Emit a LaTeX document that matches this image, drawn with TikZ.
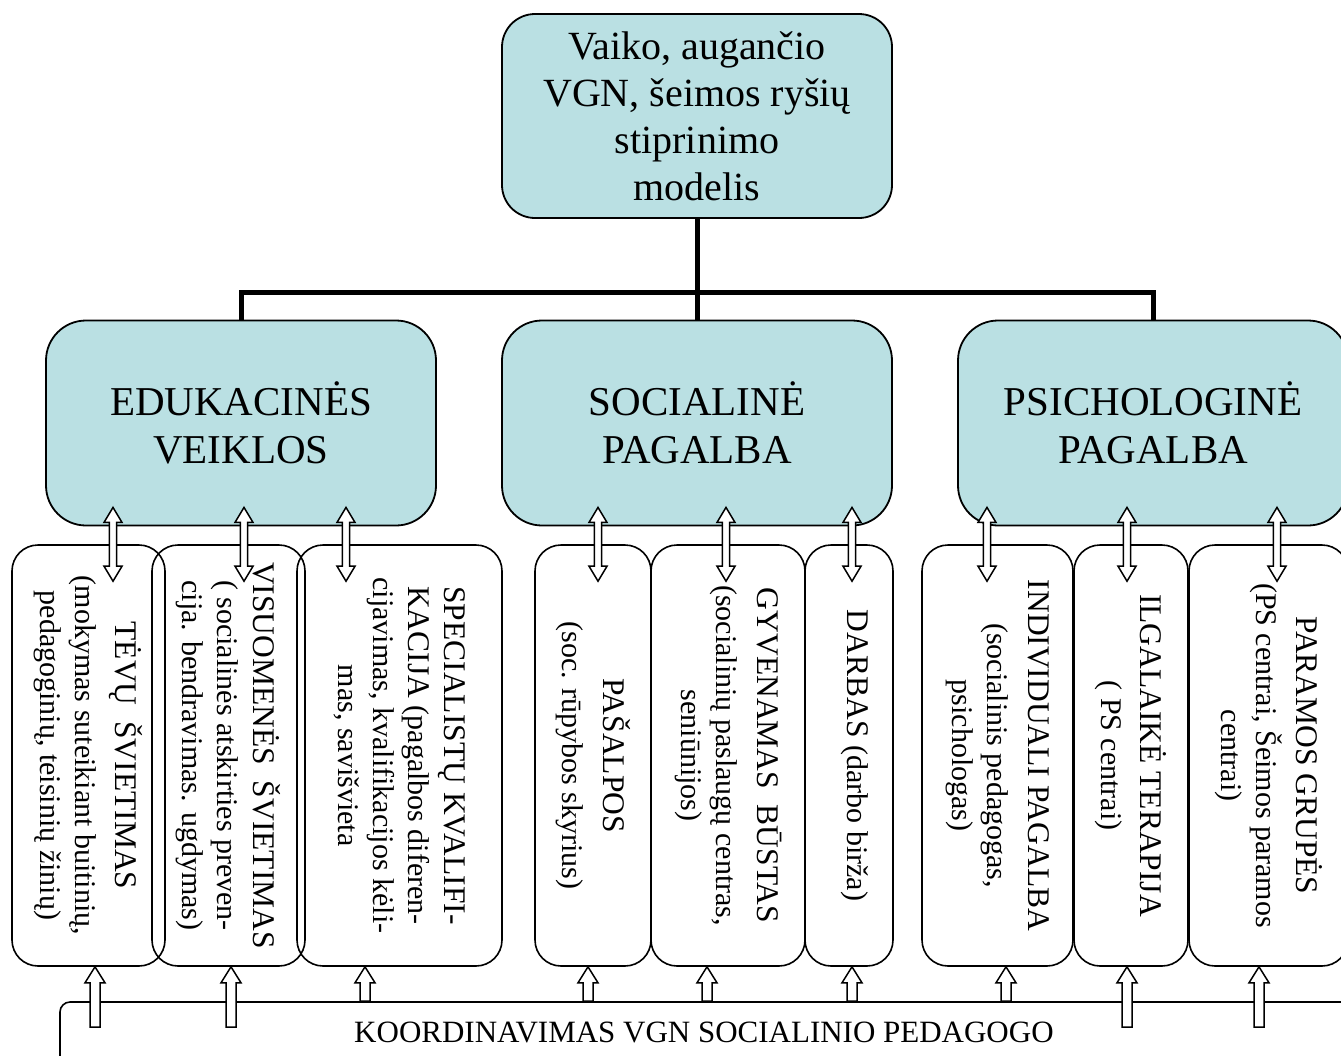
\documentclass[tikz,border=0pt]{standalone}
\usepackage{fontspec}
\setmainfont{Liberation Serif}
\usetikzlibrary{calc}

\definecolor{boxblue}{RGB}{186,224,227}
\newcommand{\hd}[1]{{\fontsize{31.5}{35}\selectfont #1}}

\tikzset{
  mainbox/.style={draw, line width=1.8pt, fill=boxblue, rounded corners=33pt,
    minimum width=390pt, minimum height=204pt, inner sep=0pt, align=center,
    font=\fontsize{40}{47}\selectfont},
  areabox/.style={draw, line width=1.8pt, fill=boxblue, rounded corners=40pt,
    minimum width=390pt, minimum height=205pt, inner sep=0pt, align=center,
    font=\fontsize{41}{48}\selectfont},
  subbox/.style={draw, line width=1.6pt, rounded corners=26pt,
    minimum height=421pt, inner sep=0pt},
  subtxt/.style={rotate=-90, align=center, inner sep=0pt,
    font=\fontsize{30}{35}\selectfont},
  trunk/.style={line width=5pt},
  fatdbl/.style={draw, fill=white, line width=1.5pt, line join=miter,
    to path={let \p1=(\tikztostart), \p2=(\tikztotarget) in
      (\x1,\y1) -- (\x1+9pt,\y1-15pt) -- (\x1+3.7pt,\y1-15pt)
      -- (\x1+3.7pt,\y2+15pt) -- (\x1+9pt,\y2+15pt) -- (\x1,\y2)
      -- (\x1-9pt,\y2+15pt) -- (\x1-3.7pt,\y2+15pt)
      -- (\x1-3.7pt,\y1-15pt) -- (\x1-9pt,\y1-15pt) -- cycle}},
  fatup/.style={draw, fill=white, line width=1.5pt, line join=miter,
    to path={let \p1=(\tikztostart), \p2=(\tikztotarget) in
      (\x1-5pt,\y1) -- (\x1-5pt,\y2-16pt) -- (\x1-10pt,\y2-16pt) -- (\x1,\y2)
      -- (\x1+10pt,\y2-16pt) -- (\x1+5pt,\y2-16pt) -- (\x1+5pt,\y1) -- cycle}}
}

\begin{document}
\begin{tikzpicture}[x=1pt,y=-1pt]
    \useasboundingbox (0,0) rectangle (1341,1055);
    \clip (0,0) rectangle (1341,1055);

    % top
    \node[mainbox] (top) at (697,116) {Vaiko, augančio\\VGN, šeimos ryšių\\stiprinimo\\modelis};

    % areas
    \node[areabox] (edu) at (241,423) {EDUKACINĖS\\VEIKLOS};
    \node[areabox] (soc) at (697,423) {SOCIALINĖ\\PAGALBA};
    \node[areabox] (psy) at (1153,423) {PSICHOLOGINĖ\\PAGALBA};

    \coordinate (bus) at (697,292);
    \draw[trunk] (top.south) -- (soc.north);
    \draw[trunk] (edu.north) |- (bus) -| (psy.north);

    % sub boxes
    \node[subbox, minimum width=153pt] (tevu) at (88.5,755.5) {};
    \node[subbox, minimum width=153pt] (visuo) at (228.5,755.5) {};
    \node[subbox, minimum width=205pt] (spec) at (399.5,755.5) {};
    \node[subbox, minimum width=116pt] (pasalpos) at (593,755.5) {};
    \node[subbox, minimum width=154pt] (bustas) at (728,755.5) {};
    \node[subbox, minimum width=88pt] (darbas) at (849,755.5) {};
    \node[subbox, minimum width=151pt] (indiv) at (997.5,755.5) {};
    \node[subbox, minimum width=114pt] (terap) at (1131,755.5) {};
    \node[subbox, minimum width=159pt] (param) at (1268.5,755.5) {};

    \node[subtxt] (tevu-t) at (tevu) {\hd{TĖVŲ\ \ ŠVIETIMAS}\\[5pt](mokymas suteikiant buitinių,\\pedagoginių, teisinių žinių)};
    \node[subtxt] (visuo-t) at (visuo) {\hd{VISUOMENĖS\ \ ŠVIETIMAS}\\[1pt]( socialinės atskirties preven-\\cija. bendravimas. ugdymas)};
    \node[subtxt] (spec-t) at (spec) {\hd{SPECIALISTŲ KVALIFI-}\\[1pt]\hd{KACIJA} (pagalbos diferen-\\cijavimas, kvalifikacijos kėli-\\mas, savišvieta};
    \node[subtxt] (pasalpos-t) at (pasalpos) {\hd{PAŠALPOS}\\[6pt](soc. rūpybos skyrius)};
    \node[subtxt] (bustas-t) at (bustas) {\hd{GYVENAMAS\ \ BŪSTAS}\\[6pt](socialinių paslaugų centras,\\seniūnijos)};
    \node[subtxt] (darbas-t) at ([xshift=6pt]darbas.center) {\hd{DARBAS} (darbo birža)};
    \node[subtxt] (indiv-t) at (indiv) {\hd{INDIVIDUALI PAGALBA}\\[6pt](socialinis pedagogas,\\psichologas)};
    \node[subtxt] (terap-t) at (terap) {\hd{ILGALAIKĖ TERAPIJA}\\[4pt]( PS centrai)};
    \node[subtxt] (param-t) at (param) {\hd{PARAMOS GRUPĖS}\\[5pt](PS centrai, Šeimos paramos\\centrai)};

    % coordination
    \node[draw, line width=1.6pt, rounded corners=10pt, minimum width=1300pt,
      minimum height=100pt] (koord) at (710,1052) {};
    \node[font=\fontsize{31}{36}\selectfont, inner sep=0pt] (koord-t) at (704,1032)
      {KOORDINAVIMAS VGN SOCIALINIO PEDAGOGO};

    % arrows down
    \foreach \x/\up/\dn in {113/edu/tevu, 244/edu/visuo, 346/edu/spec,
        598/soc/pasalpos, 726/soc/bustas, 852/soc/darbas,
        987/psy/indiv, 1127/psy/terap, 1277/psy/param}{
      \coordinate (ax) at (\x,0);
      \draw[fatdbl] ([yshift=19pt]\up.south -| ax) to ([yshift=-37pt]\dn.north -| ax);
    }

    % arrows up
    \foreach \x/\dn/\s in {95/tevu/26pt, 231/visuo/26pt, 365/spec/0pt,
        588/pasalpos/0pt, 707/bustas/0pt, 852/darbas/0pt,
        1006/indiv/0pt, 1127/terap/26pt, 1259/param/26pt}{
      \coordinate (ax) at (\x,0);
      \draw[fatup] ([yshift=-\s]koord.north -| ax) to (\dn.south -| ax);
    }
\end{tikzpicture}
\end{document}
